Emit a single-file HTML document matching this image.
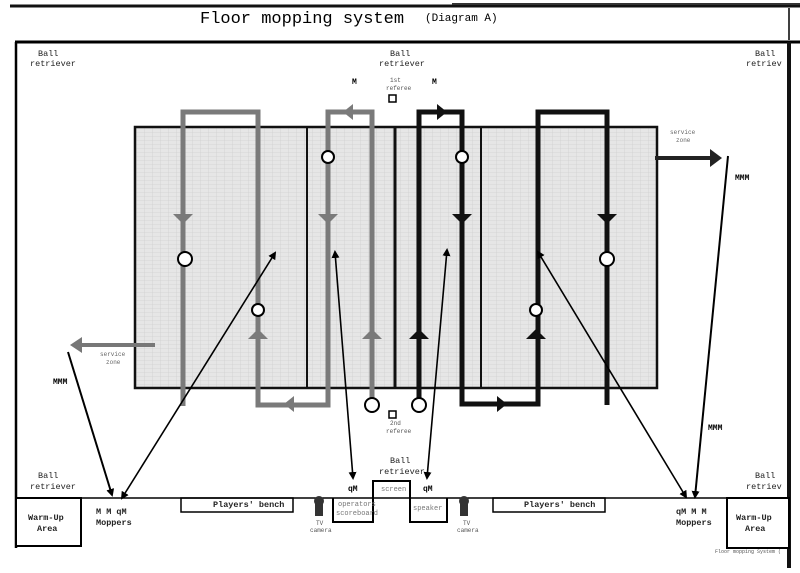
<!DOCTYPE html>
<html><head><style>
body{margin:0;background:#fff;width:800px;height:568px;overflow:hidden}
svg text{font-family:"Liberation Mono",monospace}
</style></head><body>
<svg width="800" height="568" viewBox="0 0 800 568">
<defs>
<pattern id="g" width="8" height="4" patternUnits="userSpaceOnUse"><rect width="8" height="4" fill="#e6e6e6"/><path d="M0 0H8M0 0V4" stroke="#c8c8c8" stroke-width="0.6"/></pattern>
<marker id="a" markerWidth="8" markerHeight="8" refX="6" refY="4" orient="auto-start-reverse" markerUnits="userSpaceOnUse"><path d="M0 0L8 4L0 8Z" fill="#000"/></marker>
</defs>
<line x1="10" y1="6" x2="800" y2="6" stroke="#111" stroke-width="3"/>
<line x1="452" y1="4" x2="800" y2="4" stroke="#333" stroke-width="2"/>
<text x="200" y="23" font-size="17">Floor mopping system</text>
<text x="425" y="21" font-size="11">(Diagram A)</text>
<line x1="789" y1="8" x2="789" y2="40" stroke="#000" stroke-width="1.5"/>
<line x1="15" y1="42" x2="800" y2="42" stroke="#000" stroke-width="3"/>
<line x1="16" y1="42" x2="16" y2="548" stroke="#000" stroke-width="2.5"/>
<line x1="789" y1="42" x2="789" y2="568" stroke="#111" stroke-width="4"/>
<g font-size="8.5" fill="#222">
<text x="38" y="56">Ball</text><text x="30" y="66">retriever</text>
<text x="390" y="56">Ball</text><text x="379" y="66">retriever</text>
<text x="755" y="56">Ball</text><text x="746" y="66">retriev</text>
<text x="38" y="478">Ball</text><text x="30" y="489">retriever</text>
<text x="390" y="463">Ball</text><text x="379" y="474">retriever</text>
<text x="755" y="478">Ball</text><text x="746" y="489">retriev</text>
</g>
<g font-size="8" font-weight="bold" style="font-family:'Liberation Sans',sans-serif">
<text x="352" y="84">M</text><text x="432" y="84">M</text>
<text x="735" y="180">MMM</text><text x="53" y="384">MMM</text><text x="708" y="430">MMM</text>
<text x="348" y="491">qM</text><text x="423" y="491">qM</text>
</g>
<text x="390" y="82" font-size="6" fill="#555">1st</text><text x="386" y="90" font-size="6" fill="#555">referee</text>
<rect x="389" y="95" width="7" height="7" fill="#fff" stroke="#000" stroke-width="1.5"/>
<rect x="389" y="411" width="7" height="7" fill="#fff" stroke="#000" stroke-width="1.5"/>
<text x="390" y="425" font-size="6" fill="#555">2nd</text><text x="386" y="433" font-size="6" fill="#555">referee</text>
<rect x="135" y="127" width="522" height="261" fill="url(#g)" stroke="#111" stroke-width="2.5"/>
<line x1="307" y1="127" x2="307" y2="388" stroke="#111" stroke-width="2"/>
<line x1="395" y1="127" x2="395" y2="388" stroke="#111" stroke-width="3"/>
<line x1="481" y1="127" x2="481" y2="388" stroke="#111" stroke-width="2"/>
<g fill="none" stroke="#7a7a7a" stroke-width="5">
<path d="M183 406V112H258V405H328V112H372V400"/>
</g>
<g fill="none" stroke="#111" stroke-width="5">
<path d="M419 400V112H462V404H538V112H607V405"/>
</g>
<g fill="#7a7a7a">
<path d="M173 214H193L183 224Z"/><path d="M318 214H338L328 224Z"/>
<path d="M248 339H268L258 329Z"/><path d="M362 339H382L372 329Z"/>
<path d="M343 112L353 104V120Z"/><path d="M284 404L294 396V412Z"/>
</g>
<g fill="#111">
<path d="M452 214H472L462 224Z"/><path d="M597 214H617L607 224Z"/>
<path d="M409 339H429L419 329Z"/><path d="M526 339H546L536 329Z"/>
<path d="M447 112L437 104V120Z"/><path d="M507 404L497 396V412Z"/>
</g>
<g fill="#fff" stroke="#000" stroke-width="2">
<circle cx="328" cy="157" r="6"/><circle cx="462" cy="157" r="6"/>
<circle cx="185" cy="259" r="7"/><circle cx="607" cy="259" r="7"/>
<circle cx="258" cy="310" r="6"/><circle cx="536" cy="310" r="6"/>
<circle cx="372" cy="405" r="7"/><circle cx="419" cy="405" r="7"/>
</g>
<line x1="155" y1="345" x2="80" y2="345" stroke="#777" stroke-width="4"/>
<path d="M70 345L82 337V353Z" fill="#777"/>
<text x="100" y="356" font-size="6" fill="#666">service</text><text x="106" y="364" font-size="6" fill="#666">zone</text>
<line x1="655" y1="158" x2="712" y2="158" stroke="#222" stroke-width="4"/>
<path d="M722 158L710 149V167Z" fill="#222"/>
<text x="670" y="134" font-size="6" fill="#666">service</text><text x="676" y="142" font-size="6" fill="#666">zone</text>
<g stroke="#000" stroke-width="1.6" fill="none" marker-end="url(#a)" marker-start="url(#a)">
<line x1="122" y1="498" x2="275" y2="253"/>
<line x1="353" y1="478" x2="335" y2="252"/>
<line x1="427" y1="478" x2="447" y2="250"/>
<line x1="686" y1="497" x2="538" y2="252"/>
</g>
<g stroke="#000" stroke-width="2" fill="none" marker-end="url(#a)">
<line x1="68" y1="352" x2="112" y2="495"/>
<line x1="728" y1="156" x2="695" y2="497"/>
</g>
<line x1="15" y1="498" x2="790" y2="498" stroke="#000" stroke-width="1.5"/>
<rect x="16" y="498" width="65" height="48" fill="#fff" stroke="#000" stroke-width="2"/>
<rect x="727" y="498" width="62" height="50" fill="#fff" stroke="#000" stroke-width="2"/>
<g font-size="8.5" font-weight="bold" fill="#222">
<text x="28" y="520">Warm-Up</text><text x="37" y="531">Area</text>
<text x="736" y="520">Warm-Up</text><text x="745" y="531">Area</text>
<text x="96" y="514">M M qM</text><text x="96" y="525">Moppers</text>
<text x="676" y="514">qM M M</text><text x="676" y="525">Moppers</text>
<text x="213" y="507">Players' bench</text>
<text x="524" y="507">Players' bench</text>
</g>
<rect x="181" y="498" width="112" height="14" fill="none" stroke="#000" stroke-width="1.5"/>
<rect x="493" y="498" width="112" height="14" fill="none" stroke="#000" stroke-width="1.5"/>
<path d="M333 498V522H373V481H410V522H447V498" fill="none" stroke="#000" stroke-width="2"/>
<text x="381" y="491" font-size="7" fill="#777">screen</text>
<text x="338" y="506" font-size="7" fill="#777">operators</text><text x="336" y="515" font-size="7" fill="#777">scoreboard</text>
<text x="413" y="510" font-size="7" fill="#777">speaker</text>
<g fill="#333"><rect x="315" y="500" width="8" height="16"/><circle cx="319" cy="501" r="5"/>
<rect x="460" y="500" width="8" height="16"/><circle cx="464" cy="501" r="5"/></g>
<text x="316" y="525" font-size="6" fill="#555">TV</text><text x="310" y="532" font-size="6" fill="#555">camera</text>
<text x="463" y="525" font-size="6" fill="#555">TV</text><text x="457" y="532" font-size="6" fill="#555">camera</text>
<text x="715" y="553" font-size="5" fill="#555">Floor mopping System (</text>
</svg>
</body></html>
